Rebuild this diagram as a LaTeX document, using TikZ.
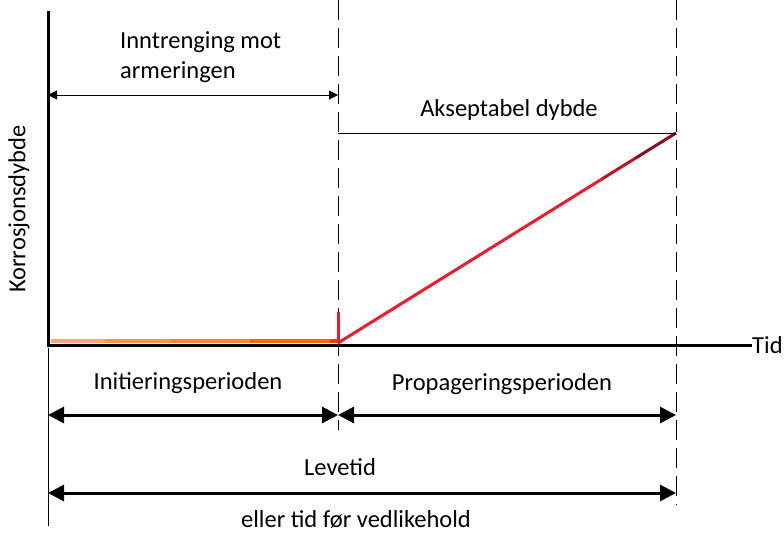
\documentclass[tikz,border=0pt]{standalone}
\usepackage{fontspec}
\setmainfont{Carlito}
\usetikzlibrary{arrows.meta,calc}

\definecolor{lightorange}{HTML}{F8A878}
\definecolor{midorange}{HTML}{F58634}
\definecolor{darkorange}{HTML}{F26A0A}
\definecolor{curvered}{HTML}{EC1C2A}
\definecolor{darkred}{HTML}{8E0A1E}

\begin{document}
\begin{tikzpicture}[
        x=1pt, y=-1pt,
        lbl/.style={font=\fontsize{24.5}{30}\selectfont, inner sep=0pt},
        axis/.style={line width=3pt},
        guide/.style={line width=0.9pt, dash pattern=on 20pt off 8pt},
        thinarr/.style={{Triangle[length=9pt,width=9pt]}-{Triangle[length=9pt,width=9pt]}, line width=1pt},
        thickarr/.style={{Triangle[length=16pt,width=16pt]}-{Triangle[length=16pt,width=16pt]}, line width=3pt}
    ]
    \useasboundingbox (0,0) rectangle (784,533);

    % axes
    \coordinate (orig) at (48,345);
    \coordinate (ytop) at (48,11);
    \coordinate (xend) at (752,345);
    \coordinate (t1)   at (338,345);
    \coordinate (t2)   at (676,345);
    \coordinate (limit) at (676,133);

    % guide lines
    \draw[guide] (338,0) -- (338,430);
    \draw[guide] (676,0) -- (676,505);
    \draw[line width=0.8pt] (48,348) -- (48,526);

    % depth curve
    \draw[line width=3.5pt, lightorange] (51,341) -- (105,341);
    \draw[line width=3.5pt, midorange!60!lightorange] (105,341) -- (170,341);
    \draw[line width=3.5pt, midorange] (170,341) -- (250,341);
    \draw[line width=3.5pt, darkorange] (250,341) -- (330,341);
    \draw[line width=3.5pt, curvered!60!darkorange] (330,341) -- (338,341);
    \draw[line width=3pt, curvered] (338,312) -- (338,343);
    \coordinate (c0) at (338,343);
    \draw[line width=3pt, curvered] (c0) -- ($(c0)!0.78!(limit)$) coordinate (c1);
    \draw[line width=3pt, curvered!50!darkred] (c1) -- ($(c0)!0.88!(limit)$) coordinate (c2);
    \draw[line width=3pt, darkred] (c2) -- (limit);

    \draw[axis] (ytop) -- (orig) -- (xend);

    \node[lbl, anchor=west] (tid) at (752,345) {Tid};
    \node[lbl, rotate=90] (ylab) at (19,209) {Korrosjonsdybde};

    % top dimension lines
    \coordinate (a1) at (48,95);
    \coordinate (a2) at (338,95);
    \draw[thinarr] (a1) -- (a2);
    \node[lbl, align=left, anchor=north west] (inntr) at (120,31) {Inntrenging mot\\armeringen};

    \coordinate (b1) at (338,133);
    \draw[line width=0.8pt] (b1) -- (limit);
    \node[lbl] (aksept) at (509,110) {Akseptabel dybde};

    % periods
    \coordinate (p0) at (48,415);
    \coordinate (p1) at (338,415);
    \coordinate (p2) at (676,415);
    \draw[thickarr] (p0) -- (p1);
    \draw[thickarr] (p1) -- (p2);
    \node[lbl] (init) at (188,383) {Initieringsperioden};
    \node[lbl] (prop) at (502,384) {Propageringsperioden};

    \coordinate (l0) at (48,493);
    \coordinate (l1) at (676,493);
    \draw[thickarr] (l0) -- (l1);
    \node[lbl] (leve) at (340,467) {Levetid};
    \node[lbl] (eller) at (356,519) {eller tid før vedlikehold};
\end{tikzpicture}
\end{document}
